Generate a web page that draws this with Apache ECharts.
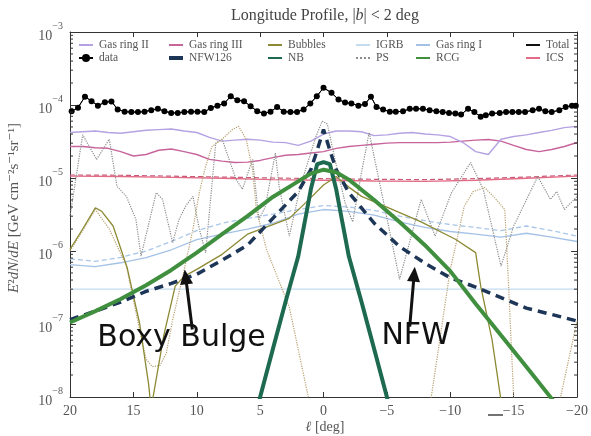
<!DOCTYPE html>
<html><head><meta charset="utf-8">
<script src="https://cdn.jsdelivr.net/npm/echarts@6/dist/echarts.min.js"></script>
<style>html,body{margin:0;padding:0;background:#fff}#c{width:591px;height:436px}</style>
</head><body><div id="c"></div>
<script>
// ---------- data ----------
const lonGrid = [20,19,18,17,16,15,14,13,12,11,10,9,8,7,6,5,4,3,2,1,0,-1,-2,-3,-4,-5,-6,-7,-8,-9,-10,-11,-12,-13,-14,-15,-16,-17,-18,-19,-20];
const lon2 = [20,18,16,14,12,10,8,6,4,2,0,-2,-4,-6,-8,-10,-12,-14,-16,-18,-20];

const dataL = [19.87,19.37,18.82,18.3,17.8,17.25,16.73,16.24,15.69,15.16,14.64,14.12,13.59,13.07,12.55,12.02,11.5,10.98,10.45,9.94,9.41,8.89,8.37,7.84,7.32,6.8,6.27,5.75,5.23,4.7,4.18,3.66,3.14,2.61,2.09,1.57,1.04,0.53,0.0,
  -0.63,-1.18,-1.7,-2.2,-2.75,-3.27,-3.74,-4.18,-4.7,-5.23,-5.7,-6.27,-6.8,-7.3,-7.84,-8.37,-8.9,-9.4,-9.9,-10.4,-10.85,-11.4,-11.9,-12.4,-12.8,-13.3,-13.9,-14.4,-14.9,-15.4,-15.9,-16.5,-17.0,-17.5,-18.0,-18.6,-19.1,-19.6,-19.9];
const dataY = [8.2e-5,9.2e-5,1.30e-4,1.13e-4,9.8e-5,1.09e-4,1.12e-4,8.7e-5,8.1e-5,8.0e-5,8.0e-5,8.1e-5,8.5e-5,8.9e-5,8.2e-5,7.8e-5,7.8e-5,8.0e-5,8.1e-5,8.1e-5,8.0e-5,9.1e-5,9.8e-5,1.05e-4,1.32e-4,1.16e-4,1.13e-4,9.6e-5,8.2e-5,7.65e-5,8.1e-5,9.4e-5,8.1e-5,8.0e-5,8.0e-5,8.7e-5,1.05e-4,1.32e-4,1.72e-4,
  1.47e-4,1.19e-4,1.08e-4,1.05e-4,9.8e-5,1.03e-4,1.30e-4,9.4e-5,8.7e-5,8.07e-5,8.07e-5,8.2e-5,8.87e-5,8.87e-5,8.87e-5,8.5e-5,8.2e-5,8.0e-5,7.8e-5,7.65e-5,7.4e-5,8.87e-5,8.0e-5,6.9e-5,7.25e-5,7.65e-5,7.8e-5,8.0e-5,8.0e-5,8.0e-5,8.0e-5,8.5e-5,8.87e-5,8.2e-5,8.0e-5,8.5e-5,9.4e-5,9.8e-5,9.8e-5];
const totalY = dataY;

const gasRing2 = [4.2e-5,4.3e-5,4.4e-5,4.2e-5,4.1e-5,4.3e-5,4.5e-5,4.6e-5,4.7e-5,4.4e-5,4.2e-5,3.6e-5,3.2e-5,3.3e-5,3.4e-5,3.3e-5,3.1e-5,3.05e-5,2.8e-5,3.2e-5,4.0e-5,4.4e-5,4.4e-5,4.3e-5,3.8e-5,3.9e-5,4.1e-5,4.2e-5,4.0e-5,3.9e-5,3.7e-5,3.06e-5,2.3e-5,2.1e-5,3.4e-5,3.7e-5,3.9e-5,4.2e-5,4.5e-5,4.9e-5,5.1e-5];
const gasRing3 = [2.7e-5,2.7e-5,2.6e-5,2.55e-5,2.3e-5,2.0e-5,2.1e-5,2.4e-5,2.5e-5,2.3e-5,2.1e-5,1.8e-5,1.7e-5,1.63e-5,1.65e-5,1.74e-5,1.9e-5,2.05e-5,2.1e-5,2.2e-5,2.3e-5,2.55e-5,2.7e-5,2.8e-5,2.9e-5,3.0e-5,3.05e-5,3.05e-5,3.05e-5,3.05e-5,3.1e-5,3.2e-5,3.3e-5,3.37e-5,3.2e-5,2.8e-5,2.46e-5,2.3e-5,2.46e-5,2.7e-5,3.06e-5];

const icsL = [20,16,12,8,4,0,-4,-8,-12,-16,-20];
const icsY = [1.06e-5,1.05e-5,1.02e-5,9.9e-6,9.5e-6,9.3e-6,9.1e-6,9.0e-6,9.3e-6,9.9e-6,1.06e-5];
const icsAltY = [1.1e-5,1.09e-5,1.06e-5,1.03e-5,1.0e-5,9.8e-6,9.6e-6,9.5e-6,9.8e-6,1.03e-5,1.1e-5];

const gasRing1 = [6.5e-7,6.1e-7,6.9e-7,8.1e-7,1.04e-6,1.43e-6,1.7e-6,2.0e-6,2.4e-6,3.2e-6,3.7e-6,3.5e-6,3.1e-6,2.5e-6,2.1e-6,1.85e-6,1.7e-6,1.55e-6,1.75e-6,1.55e-6,1.35e-6];
const gasRing1Alt = [7.8e-7,7.2e-7,8.2e-7,1.0e-6,1.35e-6,1.9e-6,2.4e-6,2.8e-6,3.2e-6,3.7e-6,4.2e-6,4.0e-6,3.6e-6,3.0e-6,2.6e-6,2.3e-6,2.1e-6,1.9e-6,2.2e-6,1.9e-6,1.6e-6];

const igrbL = [20,-20];
const igrbY = [3.0e-7,3.0e-7];

const nfwL = [20,18,16,14,12,10,8,6,4,2,1,0.5,0,-0.5,-1,-2,-4,-6,-8,-10,-12,-14,-16,-18,-20];
const nfwY = [1.15e-7,1.5e-7,2.0e-7,2.8e-7,3.6e-7,4.8e-7,7.5e-7,1.2e-6,2.8e-6,6.5e-6,1.3e-5,2.4e-5,4.6e-5,2.4e-5,1.3e-5,6.3e-6,2.4e-6,1.15e-6,6.8e-7,4.3e-7,3.2e-7,2.3e-7,1.65e-7,1.35e-7,1.1e-7];

const nbL = [5.5,5,4,3,2,1.5,1,0.5,0,-0.5,-1,-1.5,-2,-3,-4,-5,-5.5];
const nbY = [4e-9,1e-8,4.5e-8,2e-7,8.4e-7,2.4e-6,7e-6,1.55e-5,1.65e-5,1.55e-5,7e-6,2.4e-6,8.4e-7,2e-7,4.5e-8,1e-8,4e-9];

const rcgL = [20,18,16,14,12,10,8,6,4,2,1,0,-1,-2,-4,-6,-8,-10,-12,-14,-16,-18,-20];
const rcgY = [1.05e-7,1.5e-7,2.2e-7,3.4e-7,5.5e-7,9.5e-7,1.7e-6,3.0e-6,5.5e-6,9.0e-6,1.15e-5,1.3e-5,1.2e-5,9.5e-6,5.0e-6,2.5e-6,1.2e-6,5.3e-7,1.9e-7,7.0e-8,2.6e-8,9.5e-9,3.5e-9];

const bubL = [20,19,18,17.5,16.6,15.5,14.5,13.8,13.6,12.6,11.7,11.0,10.0,8.0,6.0,4.0,2.7,1.4,0,-1,-2,-3,-5,-7.7,-10.4,-12,-12.4,-13.3,-14,-14.3];
const bubY = [1.05e-6,2.0e-6,3.9e-6,3.5e-6,2.2e-6,6e-7,1e-7,1.5e-8,7e-9,7e-8,3.3e-7,4.5e-7,5.6e-7,9e-7,1.7e-6,2.3e-6,2.8e-6,4.6e-6,8e-6,1.05e-5,7.5e-6,5.6e-6,4.0e-6,2.5e-6,1.45e-6,9.5e-7,3.3e-7,6e-8,9e-9,5e-9];

const psL = [20,19.0,17.9,16.9,16.3,15.55,14.8,14.4,13.2,12.7,11.9,11.4,10.85,10.3,9.8,9.3,8.5,8.0,6.9,6.4,5.6,5.1,4.6,3.8,3.5,2.7,1.8,0.6,0.1,-0.3,-0.9,-1.7,-2.3,-3.0,-3.6,-4.1,-6.0,-7.7,-8.8,-10.1,-11.6,-12.6,-14.0,-15.0,-16.9,-17.9,-18.4,-19.0,-20];
const psY = [3.0e-6,3.9e-5,1.8e-5,3.4e-5,7.7e-6,5.6e-6,2.7e-6,8.5e-7,6.3e-6,5.1e-6,1.3e-6,2.7e-6,4.2e-6,5.6e-6,2.0e-6,9.5e-7,3.0e-5,3.4e-5,9.6e-6,7.0e-6,1.8e-5,2.7e-6,4e-6,2.2e-5,7.6e-6,1.6e-6,8e-6,3.7e-5,6.0e-5,5.5e-5,1.8e-5,4.6e-6,2.5e-6,1.2e-5,4.2e-5,1.6e-5,4.1e-7,5.1e-6,1.6e-6,6.3e-6,1.63e-5,7.0e-6,6.2e-7,2.2e-6,1.05e-5,5.1e-6,6.5e-6,3.7e-6,5.6e-6];

const ps2L = [20,19,18,16.9,15.55,14.8,14.0,13.5,12.9,12.4,11.9,11.1,10.3,9.8,9.3,8.8,8.0,7.2,6.7,6.1,5.6,5.3,4.5,2.7,1.2,0.8,-8.2,-8.5,-10.0,-10.3,-11.1,-11.8,-12.7,-13.4,-14.3,-14.6,-15.0,-15.3,-18.4,-18.7,-20];
const ps2Y = [1.0e-6,1.9e-6,3.7e-6,2.0e-6,6.2e-7,1.45e-7,3.3e-8,2.6e-8,2.7e-8,4.0e-8,1.15e-7,4.5e-7,2.0e-6,6.3e-6,1.45e-5,2.7e-5,3.4e-5,4.6e-5,5.1e-5,3.4e-5,1.3e-5,3.7e-6,1.05e-6,1.7e-7,1e-8,4e-9,4e-9,1e-8,5.6e-7,9.5e-7,4.1e-6,6.5e-6,7.4e-6,5.6e-6,3.7e-6,3.3e-7,1e-8,4e-9,4e-9,1e-8,1.1e-7];

const xTicks = [20,15,10,5,0,-5,-10,-15,-20];
const legendCols = [['Gas ring II','data'],['Gas ring III','NFW126'],['Bubbles','NB'],['IGRB','PS'],['Gas ring I','RCG'],['Total','ICS']];
const legendLeft = [78,167,267,355,415,525];

const annotations = [
  {text:'Boxy Bulge', at:[11.2, 6.4e-8], tail:[10.35, 8.4e-8], tip:[10.95, 5.6e-7]},
  {text:'NFW', at:[-7.3, 6.9e-8], tail:[-6.8, 9.2e-8], tip:[-7.2, 6.1e-7]}
];

// ---------- chart ----------
const pairs = (xs, ys) => xs.map((x, i) => [x, ys[i]]);
const SERIF = '"Liberation Serif", "DejaVu Serif", serif';

function ln(name, xs, ys, color, width, type, z) {
  return {
    name, type: 'line', data: pairs(xs, ys), symbol: 'none', showSymbol: false,
    lineStyle: {color, width, type: type || 'solid'}, itemStyle: {color},
    clip: true, silent: true, animation: false, z: z || 2
  };
}

const minorTicks = [];
for (let n = -8; n <= -4; n++) {
  for (let k = 2; k <= 9; k++) {
    minorTicks.push([20, k * Math.pow(10, n)]);
    minorTicks.push([-20, k * Math.pow(10, n)]);
  }
}

const chart = echarts.init(document.getElementById('c'), null, {renderer: 'canvas', width: 591, height: 436});

function legendItem(n) {
  if (n === 'data') return {name: n};
  if (n === 'NFW126') return {name: n, itemStyle: {opacity: 0}, lineStyle: {type: 'solid', width: 4}};
  return {name: n, itemStyle: {opacity: 0}};
}

const axisLineStyle = {color: '#333', width: 1};
const option = {
  animation: false,
  backgroundColor: '#fff',
  grid: {left: 70, right: 11, top: 32, bottom: 39, containLabel: false},
  xAxis: [
    {type: 'value', min: -20, max: 20, interval: 5, inverse: true, position: 'bottom',
     axisLine: {show: true, onZero: false, lineStyle: axisLineStyle},
     axisTick: {show: true, inside: true, length: 5, lineStyle: axisLineStyle},
     axisLabel: {show: true, margin: 7, color: '#555', fontFamily: SERIF, fontSize: 14,
       formatter: v => v < 0 ? '\u2212' + (-v) : String(v)},
     splitLine: {show: false}},
    {type: 'value', min: -20, max: 20, interval: 5, inverse: true, position: 'top',
     axisLine: {show: true, onZero: false, lineStyle: axisLineStyle},
     axisTick: {show: true, inside: true, length: 5, lineStyle: axisLineStyle},
     axisLabel: {show: false}, splitLine: {show: false}}
  ],
  yAxis: [
    {type: 'log', logBase: 10, min: 1e-8, max: 1e-3, position: 'left',
     axisLine: {show: true, onZero: false, lineStyle: axisLineStyle},
     axisTick: {show: true, inside: true, length: 6, lineStyle: axisLineStyle},
     axisLabel: {show: true, margin: 7,
       formatter: v => '{b|10}{s|\u2212' + (-Math.round(Math.log10(v))) + '}',
       rich: {
         b: {fontFamily: SERIF, fontSize: 14, color: '#555', lineHeight: 22, verticalAlign: 'bottom'},
         s: {fontFamily: SERIF, fontSize: 10, color: '#555', lineHeight: 12, verticalAlign: 'top'}
       }},
     splitLine: {show: false}},
    {type: 'log', logBase: 10, min: 1e-8, max: 1e-3, position: 'right',
     axisLine: {show: true, onZero: false, lineStyle: axisLineStyle},
     axisTick: {show: true, inside: true, length: 6, lineStyle: axisLineStyle},
     axisLabel: {show: false}, splitLine: {show: false}}
  ],
  legend: legendCols.map((col, i) => ({
    data: col.map(legendItem),
    orient: 'vertical', left: legendLeft[i], top: 39, itemGap: 1,
    itemWidth: 14, itemHeight: 10, selectedMode: false, padding: 0,
    textStyle: {fontFamily: SERIF, fontSize: 11.5, color: '#555', padding: [0, 0, 0, 1]}
  })),
  series: [
    ln('IGRB', igrbL, igrbY, '#c4dcf0', 1.2),
    ln('Gas ring I alt', lon2, gasRing1Alt, '#a8c6ea', 1.3, [5, 3]),
    ln('Gas ring I', lon2, gasRing1, '#a4c2e6', 1.3),
    ln('ICS alt', icsL, icsAltY, '#c85a78', 1.2, [5, 3]),
    ln('ICS', icsL, icsY, '#e26c86', 1.4),
    ln('Gas ring III', lonGrid, gasRing3, '#c8649c', 1.4),
    ln('Gas ring II', lonGrid, gasRing2, '#b4a2e2', 1.4),
    ln('PS', psL, psY, '#8c8c8c', 1.2, 'dotted'),
    ln('PS alt', ps2L, ps2Y, '#b8a070', 1.2, 'dotted'),
    ln('Bubbles', bubL, bubY, '#8c8a34', 1.3),
    ln('NFW126', nfwL, nfwY, '#1d3557', 3.5, [9, 6], 3),
    ln('NB', nbL, nbY, '#1d6a50', 4, 'solid', 3),
    ln('RCG', rcgL, rcgY, '#3f8f3f', 4, 'solid', 3),
    ln('Total', dataL, totalY, '#111', 1, 'solid', 4),
    {name: 'data', type: 'line', data: pairs(dataL, dataY), symbol: 'circle', symbolSize: 6, showSymbol: true,
     lineStyle: {color: '#000', width: 1}, itemStyle: {color: '#000'}, clip: true, silent: true, animation: false, z: 5},
    {name: 'minor ticks', type: 'custom', data: minorTicks, silent: true, clip: false, z: 6,
     renderItem: (params, api) => {
       const side = api.value(0);
       const p = api.coord([side, api.value(1)]);
       const dir = side > 0 ? 1 : -1;
       return {type: 'line', shape: {x1: p[0], y1: p[1], x2: p[0] + dir * 3, y2: p[1]},
               style: {stroke: '#333', lineWidth: 1}};
     }}
  ]
};
chart.setOption(option);

// ---------- text and annotations ----------
const graphic = [
  {type: 'text', x: 325, y: 16, style: {text: 'Longitude Profile, |{i|b}| < 2 deg', align: 'center', verticalAlign: 'middle',
    font: '16px ' + SERIF, fill: '#444', rich: {i: {fontStyle: 'italic', fontSize: 16, fontFamily: SERIF, fill: '#444'}}}},
  {type: 'text', x: 325, y: 427, style: {text: '{i|\u2113} [deg]', align: 'center', verticalAlign: 'middle', font: '14px ' + SERIF, fill: '#555',
    rich: {i: {fontStyle: 'italic', fontSize: 14, fontFamily: SERIF, fill: '#555'}}}},
  {type: 'text', x: 14, y: 208, rotation: Math.PI / 2,
   style: {text: '{i|E}\u00b2{i|dN}/{i|dE} [GeV cm\u207b\u00b2s\u207b\u00b9sr\u207b\u00b9]', align: 'center', verticalAlign: 'middle',
     font: '15px ' + SERIF, fill: '#555', rich: {i: {fontStyle: 'italic', fontSize: 15, fontFamily: SERIF, fill: '#555'}}}},
  {type: 'line', shape: {x1: 488, y1: 415, x2: 503, y2: 415}, style: {stroke: '#444', lineWidth: 1.5}}
];
const toPx = v => chart.convertToPixel({xAxisIndex: 0, yAxisIndex: 0}, v);
annotations.forEach(a => {
  const c = toPx(a.at), t = toPx(a.tail), h = toPx(a.tip);
  const dx = h[0] - t[0], dy = h[1] - t[1], L = Math.hypot(dx, dy);
  const ux = dx / L, uy = dy / L, headLen = 15, halfW = 6.5;
  const bx = h[0] - ux * headLen, by = h[1] - uy * headLen;
  graphic.push({type: 'text', x: c[0], y: c[1], style: {text: a.text, align: 'center', verticalAlign: 'middle',
    font: '30px "DejaVu Sans", sans-serif', fill: '#111'}, z: 10});
  graphic.push({type: 'line', shape: {x1: t[0], y1: t[1], x2: bx + ux * 2, y2: by + uy * 2}, style: {stroke: '#111', lineWidth: 3}, z: 10});
  graphic.push({type: 'polygon', shape: {points: [[h[0], h[1]], [bx - uy * halfW, by + ux * halfW], [bx + uy * halfW, by - ux * halfW]]},
    style: {fill: '#111'}, z: 10});
});
chart.setOption({graphic});
</script>
</body></html>
